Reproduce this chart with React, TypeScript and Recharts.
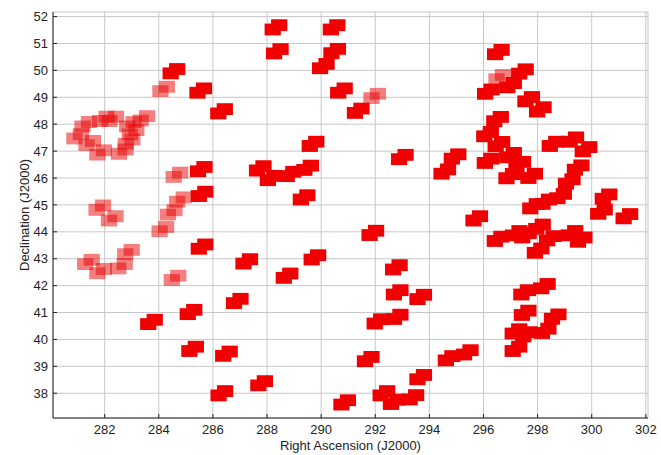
import {
  ScatterChart,
  Scatter,
  XAxis,
  YAxis,
  CartesianGrid,
  ReferenceArea,
} from "recharts";

const raTicks = [282, 284, 286, 288, 290, 292, 294, 296, 298, 300, 302];
const decTicks = [38, 39, 40, 41, 42, 43, 44, 45, 46, 47, 48, 49, 50, 51, 52];

// field centres (RA, Dec) — fully covered fields
const solidFields: [number, number][] = [
  [284.56, 49.97], [285.57, 46.33], [285.6, 45.41], [285.6, 43.45], [285.19, 41.02],
  [283.73, 40.65], [285.25, 39.65], [286.5, 39.47], [286.33, 38.0], [287.8, 38.37],
  [286.9, 41.43], [287.25, 42.9], [288.74, 42.37], [289.77, 43.05], [290.87, 37.66],
  [288.33, 51.6], [288.38, 50.71], [290.48, 51.6], [290.5, 50.72], [290.08, 50.16],
  [290.75, 49.25], [285.55, 49.25], [286.32, 48.48], [289.7, 47.27], [287.75, 46.36],
  [288.15, 46.0], [288.85, 46.15], [289.5, 46.38], [289.37, 45.28], [291.37, 48.5],
  [293.0, 46.78], [294.57, 46.24], [294.95, 46.8], [295.75, 44.5], [296.55, 50.68],
  [297.44, 49.96], [296.18, 49.21], [297.0, 49.45], [297.67, 48.93], [298.1, 48.55],
  [296.52, 48.19], [296.15, 47.63], [296.57, 47.26], [297.0, 46.85], [296.17, 46.64],
  [297.34, 46.52], [296.97, 46.07], [297.78, 46.08], [298.57, 47.27], [299.3, 47.43],
  [299.79, 47.07], [299.5, 46.39], [299.17, 45.87], [298.85, 45.33], [298.3, 45.12],
  [297.85, 44.95], [300.53, 45.31], [300.36, 44.75], [301.3, 44.58], [296.54, 43.74],
  [297.21, 43.95], [297.55, 43.87], [298.07, 44.19], [298.47, 43.76], [299.61, 43.71],
  [299.27, 43.95], [298.02, 43.3], [297.52, 41.75], [298.25, 41.98], [297.54, 40.99],
  [298.65, 40.85], [298.28, 40.32], [297.59, 40.19], [297.2, 40.3], [297.2, 39.65],
  [291.91, 43.96], [292.78, 42.68], [292.81, 41.75], [293.68, 41.58], [292.1, 40.67],
  [292.81, 40.84], [291.74, 39.27], [294.73, 39.3], [295.4, 39.52], [293.68, 38.6],
  [292.32, 38.0], [292.7, 37.68], [293.39, 37.85],
];

// partly covered fields (drawn paler)
const faintFields: [number, number][] = [
  [284.18, 49.31], [291.98, 49.05], [296.6, 49.75], [284.67, 46.12],
  [284.8, 45.2], [284.46, 44.72], [284.15, 44.1], [281.82, 44.9], [282.28, 44.5],
  [281.4, 42.88], [281.85, 42.54], [282.88, 43.25], [282.62, 42.72], [284.6, 42.29],
  [281.0, 47.55], [281.3, 48.0], [281.45, 47.3], [281.95, 48.2], [282.95, 48.0],
  [282.9, 47.35], [283.45, 48.22], [281.85, 46.95], [282.65, 46.98],
  [282.3, 48.2], [283.05, 47.7],
];

// each field = two offset tiles (degrees)
const TILE_W = 0.6;
const TILE_H = 0.44;
const STEP_X = 0.12;
const STEP_Y = 0.08;

const font = { fontFamily: "Liberation Sans, Arial, sans-serif", fontSize: 13, fill: "#222" };

function tiles(fields: [number, number][], fill: string, opacity: number, id: string) {
  return fields.flatMap(([ra, dec], i) =>
    [-1, 1].map((s) => (
      <ReferenceArea
        key={`${id}-${i}-${s}`}
        x1={ra + s * STEP_X - TILE_W / 2}
        x2={ra + s * STEP_X + TILE_W / 2}
        y1={dec + s * STEP_Y - TILE_H / 2}
        y2={dec + s * STEP_Y + TILE_H / 2}
        fill={fill}
        fillOpacity={opacity}
        stroke="none"
        ifOverflow="hidden"
      />
    ))
  );
}

const centres = [...solidFields, ...faintFields].map(([ra, dec]) => ({ ra, dec }));

export default function App() {
  return (
    <div style={{ position: "absolute", left: 0, top: 0, width: 661, height: 455, background: "#fff" }}>
      <ScatterChart width={661} height={455} margin={{ top: 12, right: 13, bottom: 0, left: 0 }}>
        <CartesianGrid stroke="#c8c8c8" strokeWidth={1} />
        <XAxis
          dataKey="ra"
          type="number"
          domain={[280.09, 302.08]}
          ticks={raTicks}
          allowDataOverflow
          height={37}
          tickSize={-4}
          tickMargin={11}
          tick={font}
          stroke="#222"
        />
        <XAxis
          xAxisId="top"
          orientation="top"
          type="number"
          domain={[280.09, 302.08]}
          ticks={raTicks}
          allowDataOverflow
          height={0}
          tickSize={-4}
          tickFormatter={() => ""}
          stroke="#222"
        />
        <YAxis
          dataKey="dec"
          type="number"
          domain={[37.08, 52.17]}
          ticks={decTicks}
          allowDataOverflow
          width={53}
          tickSize={-4}
          tickMargin={9}
          tick={font}
          stroke="#222"
        />
        <YAxis
          yAxisId="right"
          orientation="right"
          type="number"
          domain={[37.08, 52.17]}
          ticks={decTicks}
          allowDataOverflow
          width={0}
          tickSize={-4}
          tickFormatter={() => ""}
          stroke="#222"
        />
        {tiles(faintFields, "#e80000", 0.5, "faint")}
        {tiles(solidFields, "#f00000", 1, "solid")}
        <Scatter data={centres} shape={() => <g />} isAnimationActive={false} />
      </ScatterChart>
      <div
        style={{
          position: "absolute",
          left: 0,
          width: 701,
          top: 438,
          textAlign: "center",
          fontFamily: "Liberation Sans, Arial, sans-serif",
          fontSize: 13,
          color: "#222",
        }}
      >
        Right Ascension (J2000)
      </div>
      <div
        style={{
          position: "absolute",
          left: 24,
          top: 215,
          transform: "translate(-50%, -50%) rotate(-90deg)",
          whiteSpace: "nowrap",
          fontFamily: "Liberation Sans, Arial, sans-serif",
          fontSize: 13,
          color: "#222",
        }}
      >
        Declination (J2000)
      </div>
    </div>
  );
}
